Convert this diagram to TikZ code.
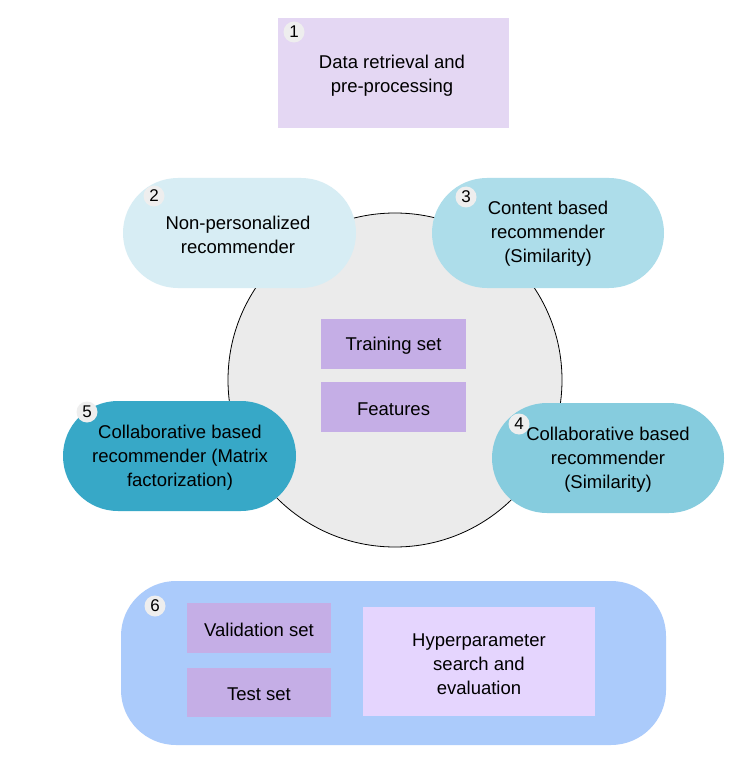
\documentclass[tikz,border=0pt]{standalone}
\usepackage{fontspec}
\setmainfont{Liberation Sans}
\begin{document}
\begin{tikzpicture}[x=1pt,y=-1pt,
  lbl/.style={font=\fontsize{18.5}{24}\selectfont, align=center, text=black, yshift=-2pt},
  badge/.style={circle, fill=badgegray, inner sep=0pt, minimum size=21pt, font=\fontsize{17}{17}\selectfont},
  pill/.style={rounded corners=55pt},
  setbox/.style={fill=setpurple, draw=none}
]
\definecolor{badgegray}{HTML}{EEEEEE}
\definecolor{dataviolet}{HTML}{E4D7F3}
\definecolor{circgray}{HTML}{EBEBEB}
\definecolor{pilltwo}{HTML}{D7EDF4}
\definecolor{pillthree}{HTML}{ADDDEA}
\definecolor{pillfour}{HTML}{86CCDE}
\definecolor{pillfive}{HTML}{37A8C7}
\definecolor{boxsix}{HTML}{ABCBFB}
\definecolor{setpurple}{HTML}{C5AEE6}
\definecolor{hyperviolet}{HTML}{E5D5FE}
\useasboundingbox (0,0) rectangle (743,775);
\fill[white] (0,0) rectangle (743,775);

% 1
\fill[dataviolet] (278,18) rectangle (509,128);
\node[lbl] (t1) at (392,74) {Data retrieval and\\pre-processing};
\node[badge] (b1) at (294,32) {1};

% central circle
\draw[fill=circgray, line width=0.8pt] (395,380) circle (167);

% 2
\fill[pilltwo, pill] (123,178) rectangle (356,288);
\node[lbl] (t2) at (238,233) {Non-personalized\\recommender};
\node[badge] (b2) at (154,196) {2};

% 3
\fill[pillthree, pill] (432,178) rectangle (664,288);
\node[lbl] (t3) at (548,232) {Content based\\recommender\\(Similarity)};
\node[badge] (b3) at (466,197) {3};

% training / features
\fill[setpurple] (321,319) rectangle (466,369);
\node[lbl] (tr) at (393.5,344) {Training set};
\fill[setpurple] (321,382) rectangle (466,432);
\node[lbl] (fe) at (393.5,407) {Features};

% 5
\fill[pillfive, pill] (63,401) rectangle (296,511);
\node[lbl] (t5) at (180,456) {Collaborative based\\recommender (Matrix\\factorization)};
\node[badge] (b5) at (87,412) {5};

% 4
\fill[pillfour, pill] (492,403) rectangle (724,513);
\node[lbl] (t4) at (608,458) {Collaborative based\\recommender\\(Similarity)};
\node[badge] (b4) at (519,424) {4};

% 6
\fill[boxsix, rounded corners=55pt] (121,581) rectangle (666,745);
\node[badge] (b6) at (155,606) {6};
\fill[setpurple] (187,603) rectangle (331,653);
\node[lbl] (va) at (259,628) {Validation set};
\fill[setpurple] (187,668) rectangle (331,717);
\node[lbl] (te) at (259,692.5) {Test set};
\fill[hyperviolet] (363,607) rectangle (595,716);
\node[lbl] (hy) at (479,662) {Hyperparameter\\search and\\evaluation};
\end{tikzpicture}
\end{document}
